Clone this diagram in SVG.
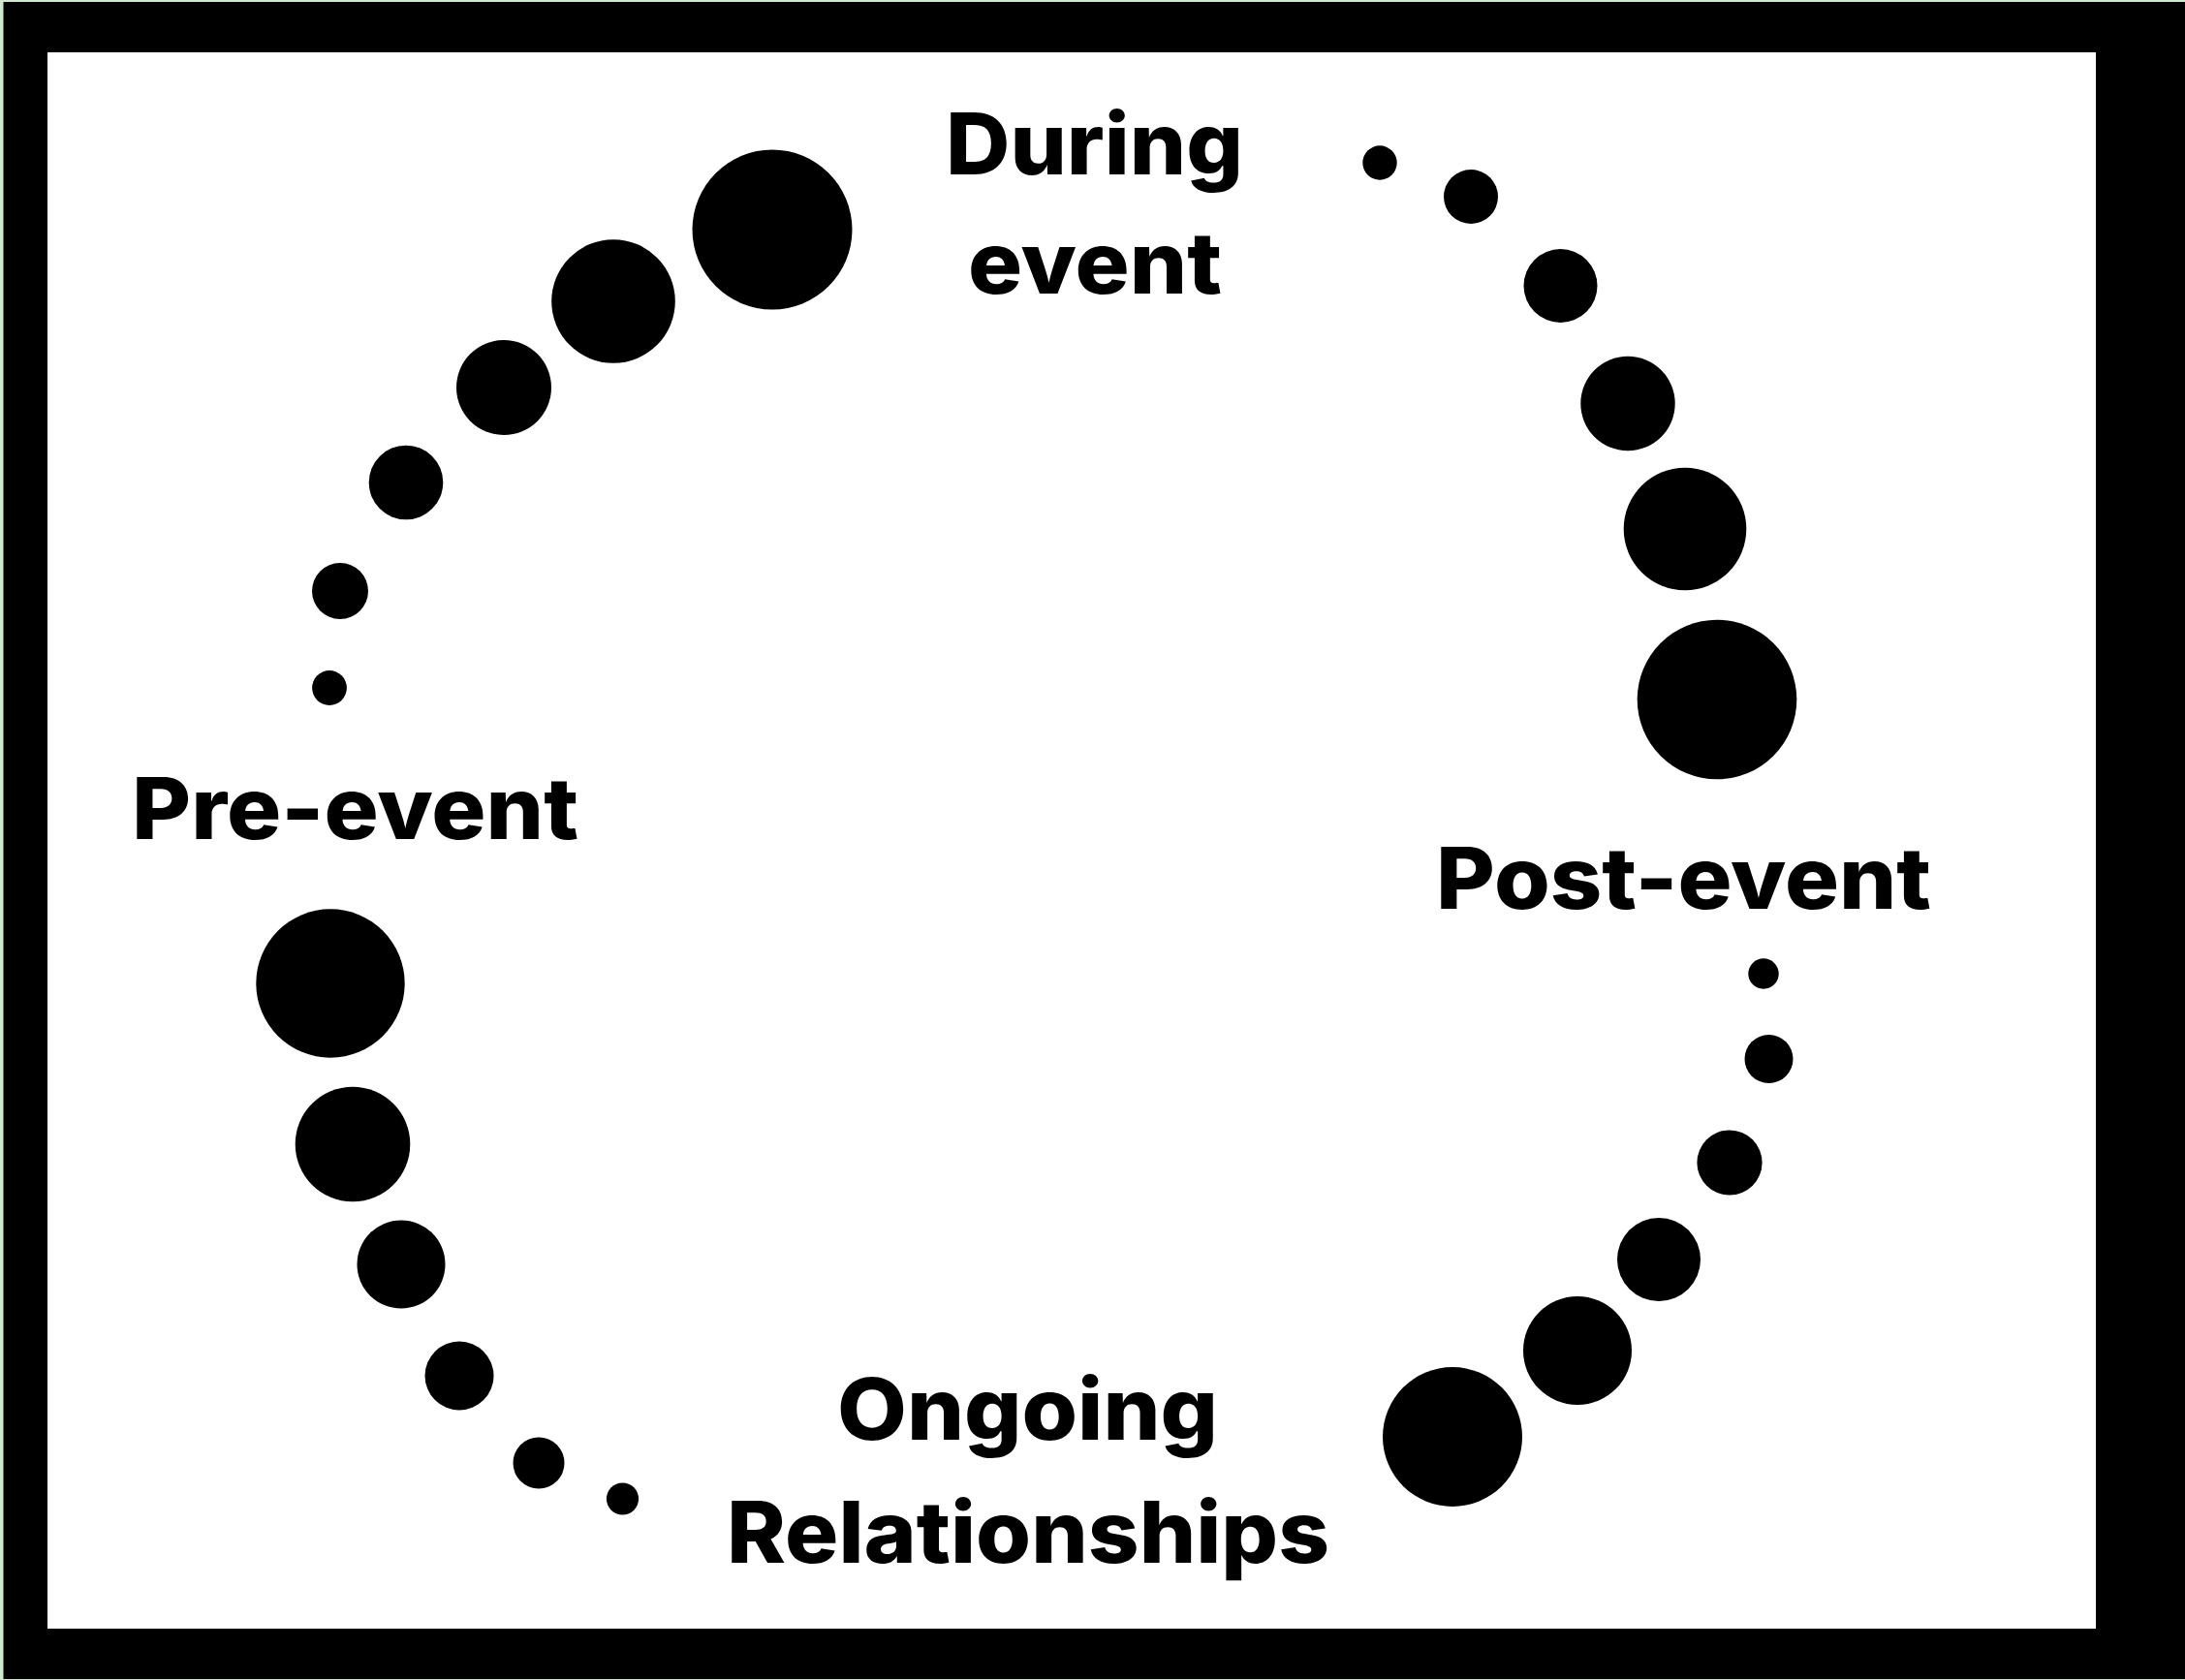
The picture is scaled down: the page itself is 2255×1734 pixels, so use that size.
<svg xmlns="http://www.w3.org/2000/svg" width="2255" height="1734" viewBox="0 0 2255 1734">
  <style>
    .dot { fill: #000000; }
    .lbl { font-family: Inter, "Liberation Sans", sans-serif; font-weight: 800; font-size: 88px; fill: #000000; }
  </style>
  <g id="frame">
    <rect x="0" y="0" width="2255" height="1734" fill="#cfe9cf"/>
    <rect x="3.5" y="2" width="2251.5" height="1731" fill="#000000"/>
    <rect x="49" y="54" width="2114" height="1627" fill="#ffffff"/>
  </g>
  <g id="arc-pre-to-during">
    <circle class="dot" cx="340" cy="710" r="17.9"/>
    <circle class="dot" cx="351" cy="610" r="29"/>
    <circle class="dot" cx="419" cy="498" r="38.3"/>
    <circle class="dot" cx="520" cy="400" r="49"/>
    <circle class="dot" cx="633" cy="311" r="63.8"/>
    <circle class="dot" cx="797" cy="237" r="82.5"/>
  </g>
  <g id="arc-during-to-post">
    <circle class="dot" cx="1424" cy="168" r="17.7"/>
    <circle class="dot" cx="1518" cy="203" r="28"/>
    <circle class="dot" cx="1610.5" cy="295" r="38"/>
    <circle class="dot" cx="1680" cy="416.5" r="48.7"/>
    <circle class="dot" cx="1739" cy="546" r="63.3"/>
    <circle class="dot" cx="1772" cy="722" r="82.3"/>
  </g>
  <g id="arc-post-to-ongoing">
    <circle class="dot" cx="1820" cy="1005" r="15.7"/>
    <circle class="dot" cx="1825.5" cy="1093" r="25"/>
    <circle class="dot" cx="1785" cy="1200" r="33.6"/>
    <circle class="dot" cx="1712" cy="1300" r="43"/>
    <circle class="dot" cx="1628" cy="1394" r="56"/>
    <circle class="dot" cx="1499" cy="1483" r="72"/>
  </g>
  <g id="arc-ongoing-to-pre">
    <circle class="dot" cx="642.5" cy="1547" r="16.6"/>
    <circle class="dot" cx="556" cy="1510" r="26.5"/>
    <circle class="dot" cx="474" cy="1420" r="35.5"/>
    <circle class="dot" cx="414" cy="1305" r="45.5"/>
    <circle class="dot" cx="364" cy="1181" r="59.3"/>
    <circle class="dot" cx="341" cy="1015" r="76.7"/>
  </g>
  <g id="label-during">
    <text class="lbl" x="976" y="180" textLength="307" lengthAdjust="spacingAndGlyphs">During</text>
    <text class="lbl" x="999" y="303" textLength="262" lengthAdjust="spacingAndGlyphs">event</text>
  </g>
  <g id="label-pre">
    <text class="lbl" x="136" y="866" textLength="461" lengthAdjust="spacingAndGlyphs">Pre-event</text>
  </g>
  <g id="label-post">
    <text class="lbl" x="1482" y="938" textLength="511" lengthAdjust="spacingAndGlyphs">Post-event</text>
  </g>
  <g id="label-ongoing">
    <text class="lbl" x="864" y="1486" textLength="393" lengthAdjust="spacingAndGlyphs">Ongoing</text>
    <text class="lbl" x="750" y="1613" textLength="622" lengthAdjust="spacingAndGlyphs">Relationships</text>
  </g>
</svg>
